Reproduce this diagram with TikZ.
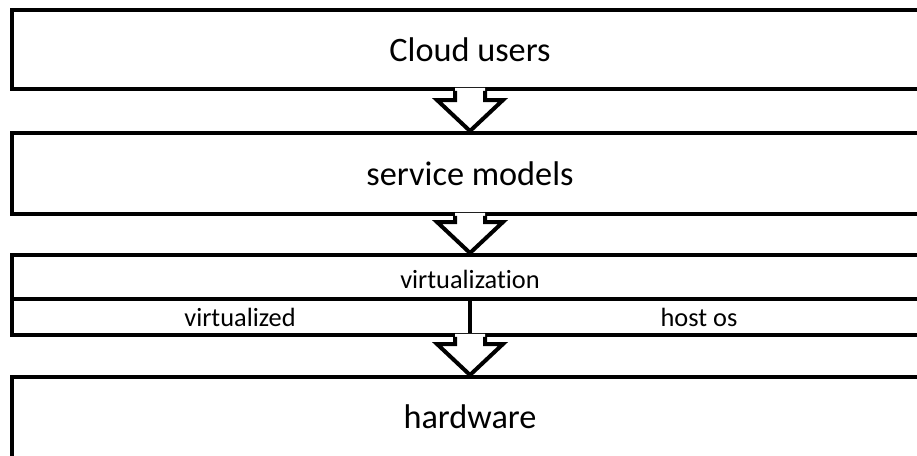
\documentclass[tikz,border=0pt]{standalone}
\usepackage{fontspec}
\setmainfont[Ligatures=NoCommon]{Carlito}
\usetikzlibrary{calc,positioning}

\tikzset{
  boxline/.style={line width=0.08cm, black},
  layerbox/.style={boxline, draw, rectangle, fill=white, minimum width=18.32cm, inner sep=0pt},
  mainlabel/.style={font=\fontsize{19.5}{23}\selectfont, inner sep=0pt},
  sublabel/.style={font=\fontsize{15}{18}\selectfont, inner sep=0pt}
}

% block arrow from the bottom of #1 to the top of #2
\newcommand{\flowarrow}[2]{%
  \fill[white] ($(#1.south)+(-15,-3)$) -- ($(#2.north)+(-15,-31)$) -- ($(#2.north)+(-33,-31)$)
    -- (#2.north) -- ($(#2.north)+(33,-31)$) -- ($(#2.north)+(15,-31)$) -- ($(#1.south)+(15,-3)$) -- cycle;
  \draw[boxline, line join=miter] ($(#1.south)+(-15,0)$) -- ($(#2.north)+(-15,-31)$) -- ($(#2.north)+(-33,-31)$)
    -- (#2.north) -- ($(#2.north)+(33,-31)$) -- ($(#2.north)+(15,-31)$) -- ($(#1.south)+(15,0)$);
}

\begin{document}
\begin{tikzpicture}[x=0.02cm, y=-0.02cm]
  \useasboundingbox (0,0) rectangle (917,456);
  \clip (0,0) rectangle (917,456);

    % draw layers
    \node[layerbox, minimum height=1.58cm] (users) at (470,49.5) {};
    \node[mainlabel] (userslabel) at (users.center) {Cloud users};
    \node[layerbox, minimum height=1.62cm] (models) at (470,173.5) {};
    \node[mainlabel] (modelslabel) at (models.center) {service models};
    \node[layerbox, minimum height=1.6cm] (virt) at (470,295) {};
    \node[layerbox, minimum height=1.66cm] (hardware) at (470,418.5) {};
    \node[mainlabel] (hardwarelabel) at (470,417) {hardware};

    % split the virtualization layer
    \coordinate (split) at (470,299);
    \draw[boxline] (virt.west |- split) -- (virt.east |- split);
    \draw[boxline] (split) -- (split |- virt.south);
    \node[sublabel] (virtlabel) at (470,279) {virtualization};
    \node[sublabel] (vmlabel) at (240,317) {virtualized};
    \node[sublabel] (hostlabel) at (699,317) {host os};

    % draw arrows
    \flowarrow{users}{models}
    \flowarrow{models}{virt}
    \flowarrow{virt}{hardware}
\end{tikzpicture}
\end{document}
